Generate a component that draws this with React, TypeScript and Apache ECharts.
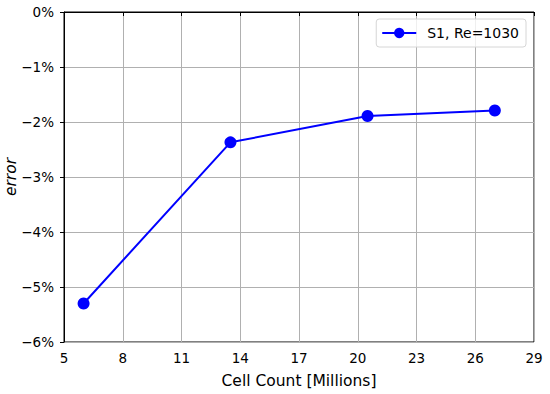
import React, { useEffect, useRef } from "react";
import * as echarts from "echarts";

const cellCounts = [6, 13.5, 20.5, 27];
const errors = [-5.3, -2.37, -1.89, -1.79];
const seriesName = "S1, Re=1030";
const xLabel = "Cell Count [Millions]";
const yLabel = "error";

const fmtPct = (v: number) => (v < 0 ? "\u2212" : "") + Math.abs(Math.round(v)) + "%";

export default function App() {
  const ref = useRef<HTMLDivElement>(null);
  useEffect(() => {
    const chart = echarts.init(ref.current!, undefined, { renderer: "svg" });
    const font = "DejaVu Sans";
    chart.setOption({
      animation: false,
      backgroundColor: "#fff",
      textStyle: { fontFamily: font },
      grid: {
        left: 64,
        right: 16,
        top: 12,
        bottom: 52,
        containLabel: false,
        outerBoundsMode: "none",
        show: true,
        borderColor: "#000",
        borderWidth: 1,
        backgroundColor: "transparent",
      },
      legend: {
        right: 24,
        top: 19,
        orient: "vertical",
        data: [{ name: seriesName }],
        itemWidth: 34,
        itemHeight: 13,
        itemGap: 4,
        padding: [7, 7, 7, 5],
        borderColor: "#d6d6d6",
        borderWidth: 1,
        borderRadius: 3,
        backgroundColor: "rgba(255,255,255,0.8)",
        textStyle: { fontFamily: font, fontSize: 14, color: "#000", padding: [0, 0, 0, 6] },
      },
      xAxis: {
        type: "value",
        min: 5,
        max: 29,
        interval: 3,
        name: xLabel,
        nameLocation: "middle",
        nameGap: 31,
        nameMoveOverlap: false,
        nameTextStyle: { fontFamily: font, fontSize: 15.5, color: "#000" },
        axisLine: { show: true, lineStyle: { color: "#000", width: 1 } },
        axisTick: { show: true, inside: false, length: 4, lineStyle: { color: "#000" } },
        axisLabel: { fontFamily: font, fontSize: 13.5, color: "#000", margin: 9 },
        splitLine: { show: true, lineStyle: { color: "#b0b0b0", width: 1 } },
      },
      yAxis: {
        type: "value",
        min: -6,
        max: 0,
        interval: 1,
        name: yLabel,
        nameLocation: "middle",
        nameGap: 45,
        nameMoveOverlap: false,
        nameRotate: 90,
        nameTextStyle: { fontFamily: font, fontSize: 15.5, color: "#000", fontStyle: "italic" },
        axisLine: { show: true, lineStyle: { color: "#000", width: 1 } },
        axisTick: { show: true, inside: false, length: 4, lineStyle: { color: "#000" } },
        axisLabel: { fontFamily: font, fontSize: 13.5, color: "#000", margin: 10, formatter: fmtPct },
        splitLine: { show: true, lineStyle: { color: "#b0b0b0", width: 1 } },
      },
      series: [
        {
          name: seriesName,
          type: "line",
          data: cellCounts.map((x, i) => [x, errors[i]]),
          symbol: "circle",
          symbolSize: 12,
          itemStyle: { color: "#0000ff" },
          lineStyle: { color: "#0000ff", width: 2 },
        },
      ],
    });
    return () => chart.dispose();
  }, []);
  return <div ref={ref} style={{ width: 550, height: 394, position: "absolute", left: 0, top: 0 }} />;
}
